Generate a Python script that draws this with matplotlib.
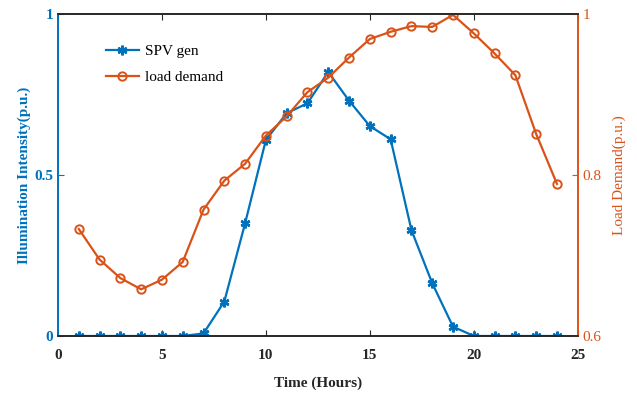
import matplotlib.pyplot as plt

plt.rcParams['font.family'] = ['Liberation Serif', 'DejaVu Serif']

hours = list(range(1, 25))
spv_gen = [0, 0, 0, 0, 0, 0, 0.008, 0.107, 0.35, 0.609, 0.692, 0.723,
           0.82, 0.731, 0.652, 0.611, 0.329, 0.164, 0.029, 0, 0, 0, 0, 0]
load_demand = [0.733, 0.695, 0.672, 0.658, 0.670, 0.692, 0.757, 0.793,
               0.814, 0.849, 0.873, 0.903, 0.921, 0.946, 0.969, 0.978,
               0.985, 0.984, 0.999, 0.976, 0.951, 0.924, 0.851, 0.789]

blue = "#0072BD"
orange = "#D95319"

fig = plt.figure(figsize=(6.37, 3.96), dpi=100)
ax = fig.add_axes([0.091, 0.1515, 0.816, 0.813])
ax2 = ax.twinx()

# MATLAB-style asterisk marker
l1, = ax.plot(hours, spv_gen, color=blue, linewidth=1.6, marker=(6, 2, 0),
              markersize=7, markeredgewidth=1.8, label="SPV gen")
l2, = ax2.plot(hours, load_demand, color=orange, linewidth=1.6, marker="o",
               markersize=6, fillstyle="none", markeredgewidth=1.4,
               label="load demand")

ax.set_xlim(0, 25)
ax.set_ylim(0, 1)
ax2.set_ylim(0.6, 1)
ax.set_xticks([0, 5, 10, 15, 20, 25])
ax.set_yticks([0, 0.5, 1])
ax.set_yticklabels(["0", "0.5", "1"])
ax2.set_yticks([0.6, 0.8, 1])
ax2.set_yticklabels(["0.6", "0.8", "1"])

ax.tick_params(axis="x", direction="in", top=True, labelsize=11, length=4,
               colors="#262626", pad=9)
ax.tick_params(axis="y", direction="in", labelsize=11, length=4, colors=blue)
ax2.tick_params(axis="y", direction="in", labelsize=11, length=4, colors=orange)
for t in ax.get_xticklabels() + ax.get_yticklabels():
    t.set_fontweight("bold")

for a in (ax, ax2):
    a.spines["top"].set_color("#262626")
    a.spines["bottom"].set_color("#262626")
    a.spines["left"].set_color(blue)
    a.spines["right"].set_color(orange)
    for s in a.spines.values():
        s.set_linewidth(1.2)

ax.set_xlabel("Time (Hours)", fontsize=11, fontweight="bold", color="#262626",
              labelpad=11)
ax.set_ylabel("Illumination Intensity(p.u.)", fontsize=11, fontweight="bold",
              color=blue, labelpad=2)
ax2.set_ylabel("Load Demand(p.u.)", fontsize=11, color=orange, labelpad=8)

ax2.legend(handles=[l1, l2], loc="upper left", bbox_to_anchor=(0.08, 0.925),
           frameon=False, fontsize=11, handlelength=2.2, borderaxespad=0,
           labelspacing=0.8, handletextpad=0.4)

fig.savefig("out.png", dpi=100)
